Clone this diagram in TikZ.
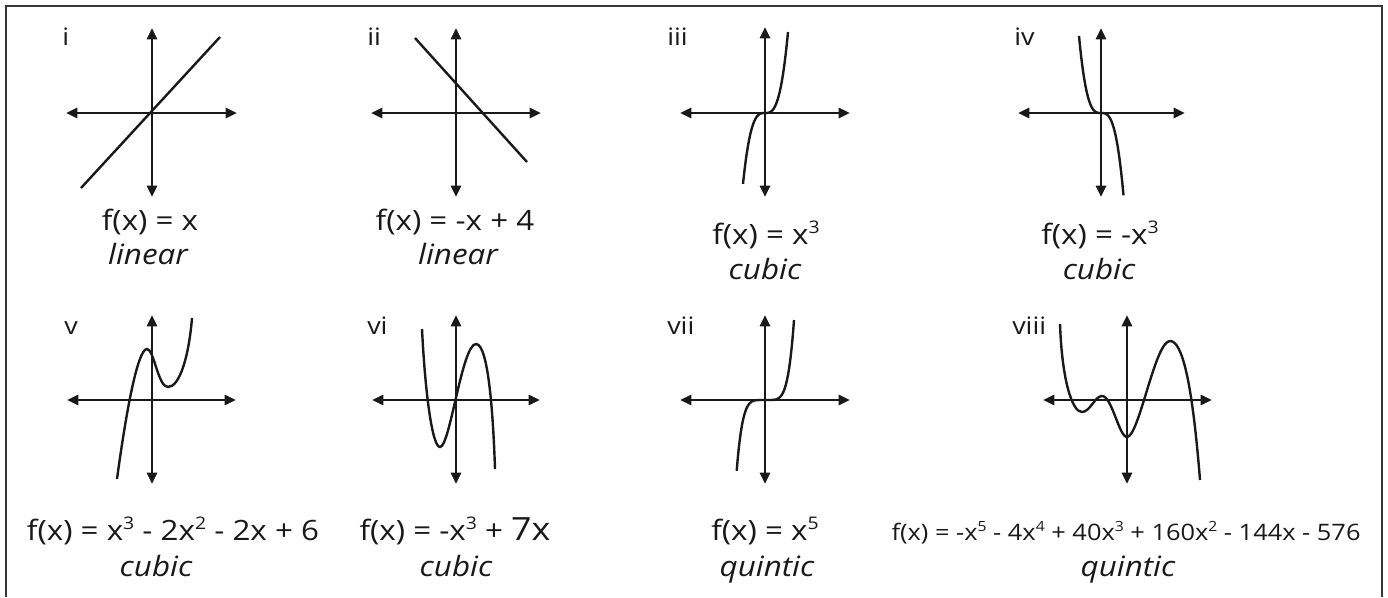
\documentclass[tikz,border=0pt]{standalone}
\usepackage{fontspec}
\setmainfont{Open Sans}[FakeStretch=1.12]
\usetikzlibrary{arrows.meta}
\definecolor{ink}{RGB}{25,25,25}
\definecolor{framec}{RGB}{55,55,55}
\newcommand\pwr[1]{\raisebox{0.72ex}{\scalebox{0.62}{#1}}}
\begin{document}
\begin{tikzpicture}[x=0.75pt,y=-0.75pt,
  axis/.style={draw=ink, line width=2.1pt, {Triangle[length=8.5pt,width=7.5pt]}-{Triangle[length=8.5pt,width=7.5pt]}},
  crv/.style={draw=ink, line width=1.8pt},
  lbl/.style={anchor=base west, inner sep=0pt, text=ink, font=\fontsize{18}{21}\selectfont},
  eq/.style={anchor=base, inner sep=0pt, text=ink, font=\fontsize{21}{25}\selectfont},
  eqs/.style={anchor=base, inner sep=0pt, text=ink, font=\fontsize{17}{20}\selectfont},
  nm/.style={anchor=base, inner sep=0pt, text=ink, font=\fontsize{21}{25}\selectfont\itshape},
]
\useasboundingbox (0,0) rectangle (1388,597);
\draw[framec, line width=2.2pt] (6,597) -- (6,6) -- (1382,6) -- (1382,597);

% ---------- row 1 ----------
% i
\begin{scope}[shift={(152,113)}]
  \draw[axis] (-86,0) -- (85,0);
  \draw[axis] (0,-85) -- (0,84);
  \draw[crv] (-71,75) -- (68,-76);
\end{scope}
\node[lbl] (li) at (62,45) {i};
\node[eq] (ei) at (150,230) {f(x) = x};
\node[nm] (ni) at (148,264) {linear};

% ii
\begin{scope}[shift={(456,113)}]
  \draw[axis] (-85,0) -- (85,0);
  \draw[axis] (0,-85) -- (0,84);
  \draw[crv] (-41,-75) -- (71,49);
\end{scope}
\node[lbl] (lii) at (367,45) {ii};
\node[eq] (eii) at (455,230) {f(x) = -x + 4};
\node[nm] (nii) at (458,264) {linear};

% iii
\begin{scope}[shift={(765,113)}]
  \draw[axis] (-85,0) -- (85,0);
  \draw[axis] (0,-86) -- (0,84);
  \draw[crv] plot[domain=-22:23, samples=60, smooth] (\x, {-81*(\x/23)*(\x/23)*(\x/23)});
\end{scope}
\node[lbl] (liii) at (667,45) {iii};
\node[eq] (eiii) at (766,244) {f(x) = x\pwr{3}};
\node[nm] (niii) at (765,279) {cubic};

% iv
\begin{scope}[shift={(1101,113)}]
  \draw[axis] (-83,0) -- (84,0);
  \draw[axis] (0,-85) -- (0,84);
  \draw[crv] plot[domain=-22:22.5, samples=60, smooth] (\x, {77*(\x/22)*(\x/22)*(\x/22)});
\end{scope}
\node[lbl] (liv) at (1014,45) {iv};
\node[eq] (eiv) at (1100,244) {f(x) = -x\pwr{3}};
\node[nm] (niv) at (1099,279) {cubic};

% ---------- row 2 ----------
% v
\begin{scope}[shift={(152,400)}]
  \draw[axis] (-85,0) -- (84,0);
  \draw[axis] (0,-85) -- (0,84);
  \draw[crv] (-35,79) .. controls (-27,20) and (-15,-51) .. (-5,-51)
             .. controls (2,-51) and (6,-13) .. (16,-13)
             .. controls (28,-13) and (37,-45) .. (40,-82);
\end{scope}
\node[lbl] (lv) at (64,334) {v};
\node[eq] (ev) at (173,540) {f(x) = x\pwr{3} - 2x\pwr{2} - 2x + 6};
\node[nm] (nv) at (156,576) {cubic};

% vi
\begin{scope}[shift={(456,400)}]
  \draw[axis] (-84,0) -- (84,0);
  \draw[axis] (0,-85) -- (0,84);
  \draw[crv] (-34,-71) .. controls (-31,-10) and (-24,47) .. (-16,47)
             .. controls (-6,47) and (6,-56) .. (20,-56)
             .. controls (32,-56) and (37,10) .. (39,69);
\end{scope}
\node[lbl] (lvi) at (367,334) {vi};
\node[eq] (evi) at (455,540) {f(x) = -x\pwr{3} + {\fontsize{24}{27}\selectfont 7x}};
\node[nm] (nvi) at (456,576) {cubic};

% vii
\begin{scope}[shift={(765,400)}]
  \draw[axis] (-85,0) -- (85,0);
  \draw[axis] (0,-85) -- (0,84);
  \draw[crv] plot[domain=-28.3:29, samples=80, smooth] (\x, {-80*(\x/29)*(\x/29)*(\x/29)*(\x/29)*(\x/29)});
\end{scope}
\node[lbl] (lvii) at (667,334) {vii};
\node[eq] (evii) at (765,540) {f(x) = x\pwr{5}};
\node[nm] (nvii) at (767,576) {quintic};

% viii
\begin{scope}[shift={(1127,400)}]
  \draw[axis] (-84,0) -- (85,0);
  \draw[axis] (0,-85) -- (0,84);
  \draw[crv] (-67,-76) .. controls (-65,-20) and (-55,12) .. (-45,12)
             .. controls (-37,12) and (-32,-4) .. (-25,-4)
             .. controls (-15,-4) and (-8,37) .. (0,37)
             .. controls (12,37) and (28,-59) .. (43,-59)
             .. controls (55,-59) and (65,-20) .. (73,80);
\end{scope}
\node[lbl] (lviii) at (1012,334) {viii};
\node[eqs] (eviii) at (1126,540) {f(x) = -x\pwr{5} - 4x\pwr{4} + 40x\pwr{3} + 160x\pwr{2} - 144x - 576};
\node[nm] (nviii) at (1128,576) {quintic};
\end{tikzpicture}
\end{document}
